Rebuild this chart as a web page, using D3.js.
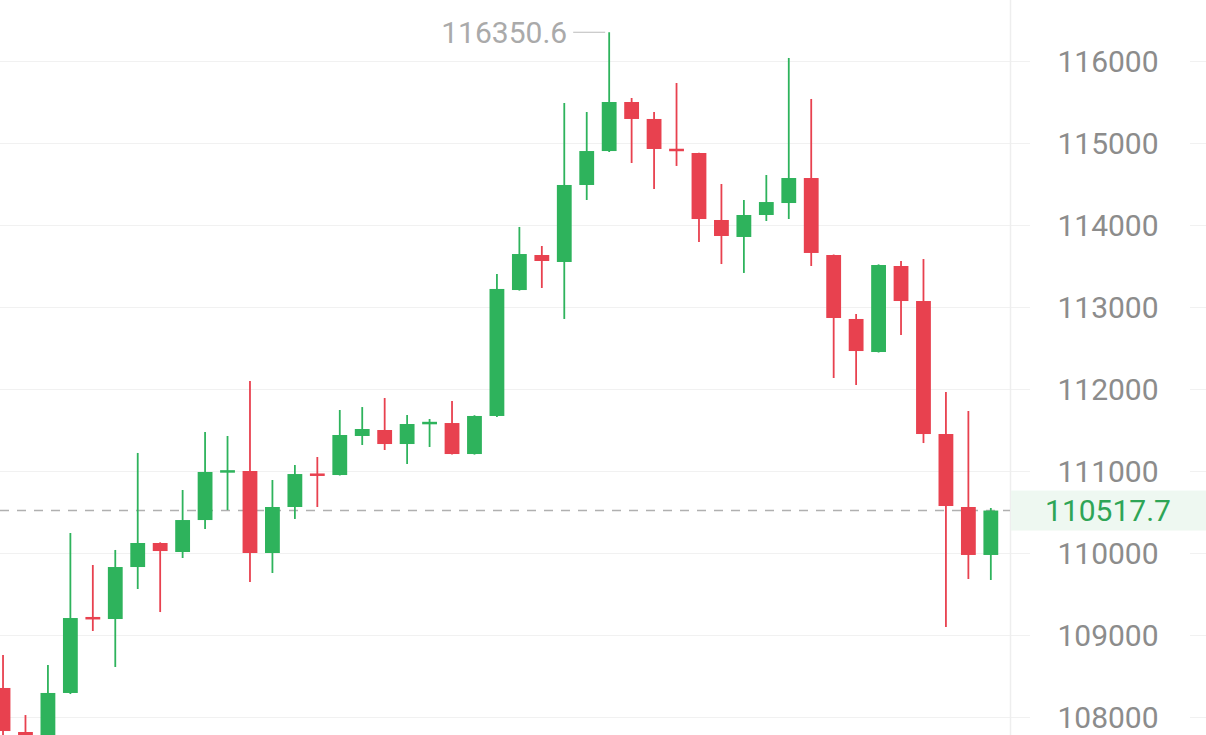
<!DOCTYPE html>
<html>
<head>
<meta charset="utf-8">
<script src="https://cdn.jsdelivr.net/npm/d3@7"></script>
<style>
  html, body { margin: 0; padding: 0; background: #ffffff; }
  svg { display: block; }
</style>
</head>
<body>
<svg id="chart" width="1206" height="735"></svg>
<script>
// ---- data ----
const opens  = [108354,107817,107700,108293,109220,109195,109829,110122,110012,110402,
                110990,111000,110000,110561,110970,110951,111427,111500,111329,111590,
                111585,111207,111671,113207,113634,113549,114488,114902,115500,115293,
                114930,114878,114061,113854,114122,114268,114573,113634,112854,112451,
                113500,113073,111451,110561,109976];
const highs  = [108756,108024,108634,110244,109854,110037,111220,110130,110768,111476,
                111427,112098,110890,111073,111171,111744,111780,111890,111683,111634,
                111854,111680,113402,113976,113744,115488,115378,116350.6,115549,115378,
                115732,114880,114500,114305,114610,116037,115537,113640,112915,113520,
                113561,113585,111963,111732,110549];
const lows   = [107700,107600,107650,108280,109049,108610,109561,109280,109939,110293,
                110524,109646,109756,110415,110561,110945,111317,111256,111085,111293,
                111200,111200,111660,113200,113232,112854,114305,114890,114756,114439,
                114720,113793,113524,113415,114049,114073,113500,112134,112049,112445,
                112659,111341,109098,109683,109671];
const closes = [107829,107700,108293,109207,109200,109829,110122,110024,110402,110988,
                111010,110000,110561,110963,110950,111439,111512,111329,111573,111600,
                111207,111671,113220,113646,113561,114488,114902,115500,115293,114927,
                114910,114073,113866,114122,114280,114573,113659,112866,112463,113512,
                113073,111451,110573,109976,110517.7];
const yTicks = [108000,109000,110000,111000,112000,113000,114000,115000,116000];
const lastPrice = 110517.7;
const maxPrice = 116350.6;

const candles = opens.map((o, i) => ({i, o, h: highs[i], l: lows[i], c: closes[i]}));

// ---- layout ----
const W = 1206, H = 735;
const plotRight = 1010;
const green = "#2eb35c", red = "#e8414f";

const svg = d3.select("#chart");

const y = d3.scaleLinear().domain([108000, 116000]).range([717, 61]);
const x = d3.scaleBand()
  .domain(d3.range(candles.length))
  .range([-8.2, -8.2 + 22.45 * candles.length])
  .paddingInner(0.34).paddingOuter(0.17);

// gridlines
svg.append("g").selectAll("line").data(yTicks).join("line")
  .attr("x1", 0).attr("x2", W)
  .attr("y1", d => Math.round(y(d)) + 0.5).attr("y2", d => Math.round(y(d)) + 0.5)
  .attr("stroke", "#f1f1f1").attr("stroke-width", 1);

// plot right border
svg.append("line")
  .attr("x1", plotRight + 0.5).attr("x2", plotRight + 0.5)
  .attr("y1", 0).attr("y2", H)
  .attr("stroke", "#eeeeee").attr("stroke-width", 1.5);

// clip for candles
svg.append("clipPath").attr("id", "clip")
  .append("rect").attr("x", 0).attr("y", 0).attr("width", plotRight).attr("height", H);

const g = svg.append("g").attr("clip-path", "url(#clip)");

// current price dashed line
g.append("line")
  .attr("x1", 0).attr("x2", plotRight)
  .attr("y1", y(lastPrice)).attr("y2", y(lastPrice))
  .attr("stroke", "#b0b0b0").attr("stroke-width", 1.6)
  .attr("stroke-dasharray", "9,8");

const cx = d => x(d.i) + x.bandwidth() / 2;
const col = d => d.c >= d.o ? green : red;

// wicks
g.append("g").selectAll("line").data(candles).join("line")
  .attr("x1", cx).attr("x2", cx)
  .attr("y1", d => y(d.h)).attr("y2", d => y(d.l))
  .attr("stroke", col).attr("stroke-width", 1.8);

// bodies
g.append("g").selectAll("rect").data(candles).join("rect")
  .attr("x", d => x(d.i))
  .attr("width", x.bandwidth())
  .attr("y", d => y(Math.max(d.o, d.c)))
  .attr("height", d => Math.max(2.5, Math.abs(y(d.o) - y(d.c))))
  .attr("fill", col);

// axis labels with white backing
const axisG = svg.append("g");
axisG.selectAll("rect").data(yTicks).join("rect")
  .attr("x", 1030).attr("width", 160)
  .attr("y", d => y(d) - 12).attr("height", 24)
  .attr("fill", "#ffffff");
axisG.selectAll("text").data(yTicks).join("text")
  .attr("x", 1108).attr("y", d => y(d))
  .attr("dy", "0.36em")
  .attr("text-anchor", "middle")
  .attr("font-family", "Roboto, 'Open Sans', sans-serif")
  .attr("font-size", 30)
  .attr("fill", "#8c8c8c")
  .text(d => d3.format("d")(d));

// current price label
svg.append("rect")
  .attr("x", plotRight + 1).attr("width", W - plotRight - 1)
  .attr("y", y(lastPrice) - 20).attr("height", 40)
  .attr("fill", "#eef8f1");
svg.append("text")
  .attr("x", 1108).attr("y", y(lastPrice))
  .attr("dy", "0.36em")
  .attr("text-anchor", "middle")
  .attr("font-family", "Roboto, 'Open Sans', sans-serif")
  .attr("font-size", 30)
  .attr("fill", "#2ea556")
  .text(d3.format(".1f")(lastPrice));

// max price marker
const maxIdx = d3.maxIndex(highs);
const maxX = cx(candles[maxIdx]);
svg.append("line")
  .attr("x1", maxX - 36).attr("x2", maxX - 4)
  .attr("y1", y(maxPrice)).attr("y2", y(maxPrice))
  .attr("stroke", "#bbbbbb").attr("stroke-width", 1.2);
svg.append("text")
  .attr("x", maxX - 42).attr("y", y(maxPrice))
  .attr("dy", "0.36em")
  .attr("text-anchor", "end")
  .attr("font-family", "Roboto, 'Open Sans', sans-serif")
  .attr("font-size", 30)
  .attr("fill", "#aaaaaa")
  .text(d3.format(".1f")(maxPrice));
</script>
</body>
</html>
